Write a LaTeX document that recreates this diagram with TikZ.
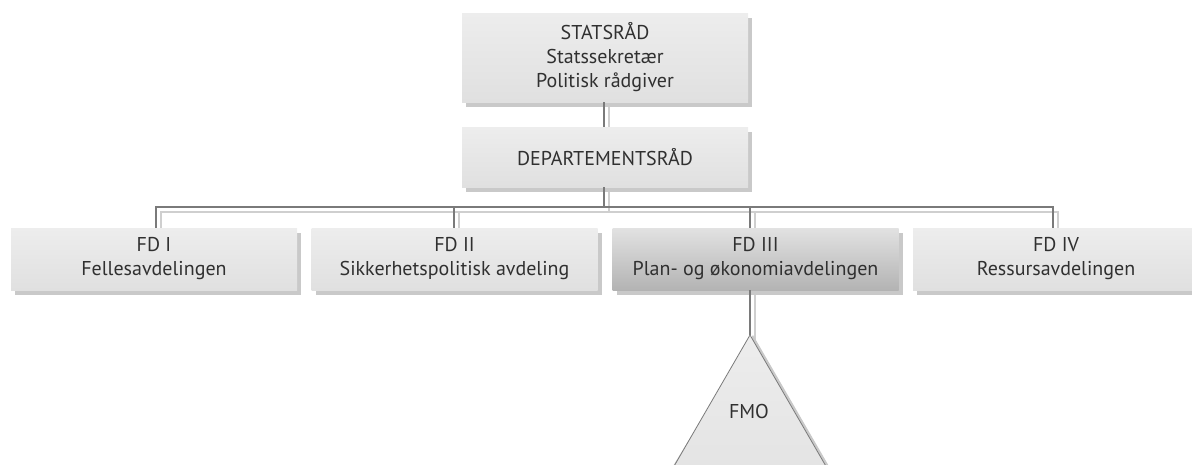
\documentclass[tikz,border=0pt]{standalone}
\usepackage{fontspec}
\setmainfont{PT Sans}
\usetikzlibrary{shadows}
\definecolor{txt}{HTML}{303030}
\definecolor{boxtop}{HTML}{EDEDED}
\definecolor{boxbot}{HTML}{E0E0E0}
\definecolor{hitop}{HTML}{E2E2E2}
\definecolor{hibot}{HTML}{B3B3B3}
\definecolor{shd}{HTML}{C9C9C9}
\definecolor{lnd}{HTML}{7A7A7A}
\definecolor{lnl}{HTML}{CFCFCF}
\tikzset{
  orgbox/.style={rectangle, top color=boxtop, bottom color=boxbot, draw=none,
    minimum width=286pt, align=center, text=txt, font=\fontsize{20}{24}\selectfont,
    drop shadow={shadow xshift=4pt, shadow yshift=-5pt, opacity=1, fill=shd}},
  hibox/.style={orgbox, top color=hitop, bottom color=hibot},
  conn/.style={draw=lnd, line width=1.6pt},
  connl/.style={draw=lnl, line width=1.6pt, xshift=5pt, yshift=-5pt},
}
\begin{document}
\begin{tikzpicture}[x=1pt,y=-1pt]
\useasboundingbox (0,0) rectangle (1192,464);
\clip (0,0) rectangle (1192,464);
\coordinate (bus) at (0,207);
\coordinate (apex) at (750,335);
\coordinate (bl) at (640,525);
\coordinate (br) at (860,525);
% connectors (shadow lines first)
\draw[connl] (604,102) -- (604,127);
\draw[connl] (604,187) -- (604,207);
\draw[connl] (156,228) |- (1053,207) -- (1053,228);
\draw[connl] (454,228) -- (454,207);
\draw[connl] (750,228) -- (750,207);
\draw[connl] (750,290) -- (750,335);
% boxes
\node[orgbox, minimum height=89pt] (sr) at (605,57.5) {STATSRÅD\\Statssekretær\\Politisk rådgiver};
\node[orgbox, minimum height=60pt] (dr) at (605,157) {DEPARTEMENTSRÅD};
\node[orgbox, minimum height=62pt] (fd1) at (154,259) {FD I\\Fellesavdelingen};
\node[orgbox, minimum height=62pt] (fd2) at (454.5,259) {FD II\\Sikkerhetspolitisk avdeling};
\node[hibox, minimum height=62pt] (fd3) at (755.5,259) {FD III\\Plan- og økonomiavdelingen};
\node[orgbox, minimum height=62pt] (fd4) at (1056,259) {FD IV\\Ressursavdelingen};
% main connectors
\draw[conn] (sr.south -| 604,0) -- (dr.north -| 604,0);
\draw[conn] (dr.south -| 604,0) -- (bus -| 604,0);
\draw[conn] (fd1.north -| 156,0) -- (bus -| 156,0) -- (bus -| 1053,0) -- (fd4.north -| 1053,0);
\draw[conn] (fd2.north -| 454,0) -- (bus -| 454,0);
\draw[conn] (fd3.north -| 750,0) -- (bus -| 750,0);
% FMO triangle
\fill[shd] ([xshift=3pt]apex) -- ([xshift=3pt]br) -- ([xshift=-3pt]bl) -- cycle;
\path[top color=boxtop, bottom color=boxbot, draw=lnd, line width=0.8pt] (apex) -- (br) -- (bl) -- cycle;
\draw[conn] (fd3.south -| apex) -- (apex);
\node[text=txt, font=\fontsize{20}{24}\selectfont] (fmo) at (749,411) {FMO};
\end{tikzpicture}
\end{document}
